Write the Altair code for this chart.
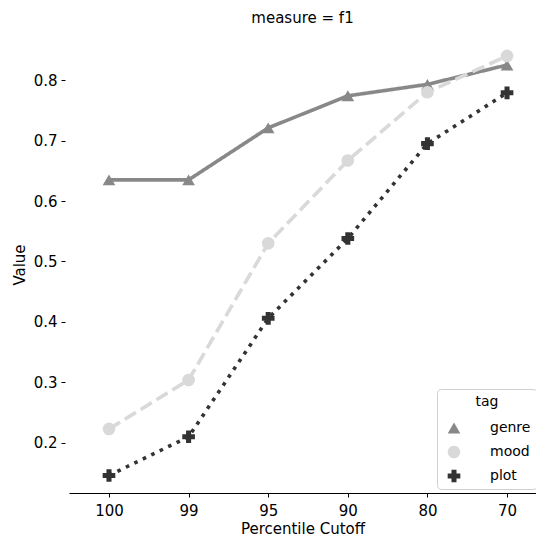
import altair as alt
import pandas as pd

cutoffs = ["100", "99", "95", "90", "80", "70"]
tags = ["genre", "mood", "plot"]
genre_vals = [0.635, 0.635, 0.721, 0.774, 0.793, 0.825]
mood_vals = [0.223, 0.304, 0.530, 0.667, 0.780, 0.840]
plot_vals = [0.146, 0.210, 0.406, 0.538, 0.695, 0.779]

rows = []
for tag, vals in zip(tags, [genre_vals, mood_vals, plot_vals]):
    for c, v in zip(cutoffs, vals):
        rows.append({"tag": tag, "cutoff": c, "value": v})
df = pd.DataFrame(rows)

FONT = "DejaVu Sans"
FS = 15
colors = ["#888888", "#d9d9d9", "#333333"]

x = alt.X("cutoff:N", sort=cutoffs, title="Percentile Cutoff",
          scale=alt.Scale(type="point", padding=0.433, align=0.58),
          axis=alt.Axis(labelAngle=0, domainColor="black", tickColor="black",
                        labelColor="black", titleColor="black", labelFontSize=FS,
                        titleFontSize=FS, labelFont=FONT, titleFont=FONT,
                        titleFontWeight="normal", tickSize=4, labelPadding=6,
                        titlePadding=3, domainWidth=1.2))
y = alt.Y("value:Q", title="Value",
          scale=alt.Scale(domain=[0.117, 0.873], nice=False, zero=False),
          axis=alt.Axis(values=[0.2, 0.3, 0.4, 0.5, 0.6, 0.7, 0.8], format=".1f",
                        domain=False, grid=False, tickColor="black", offset=4,
                        labelColor="black", titleColor="black", labelFontSize=FS,
                        titleFontSize=FS, labelFont=FONT, titleFont=FONT,
                        titleFontWeight="normal", tickSize=4, labelPadding=4,
                        titlePadding=6))

color_scale = alt.Scale(domain=tags, range=colors)

lines = alt.Chart(df).mark_line(strokeWidth=3.6).encode(
    x=x, y=y,
    color=alt.Color("tag:N", scale=color_scale, title="tag"),
    strokeDash=alt.StrokeDash("tag:N", scale=alt.Scale(domain=tags, range=[[1, 0], [13, 5.6], [3.6, 5.8]]), title="tag"),
)

points = alt.Chart(df).mark_point(filled=True, opacity=1, size=160).encode(
    x=x, y=y,
    color=alt.Color("tag:N", scale=color_scale, title="tag"),
    shape=alt.Shape("tag:N", scale=alt.Scale(domain=tags, range=["triangle-up", "circle", "cross"]), title="tag"),
)

chart = alt.layer(lines, points).properties(
    width=467, height=457,
    title=alt.TitleParams("measure = f1", font=FONT, fontSize=FS, fontWeight="normal", color="black", offset=10),
    autosize="none",
    padding={"left": 61, "top": 28, "right": 0, "bottom": 43},
).configure_view(stroke=None).configure_legend(
    orient="none", legendX=368, legendY=353,
    titleFont=FONT, labelFont=FONT, titleFontSize=14, labelFontSize=14,
    titleFontWeight="normal", titleColor="black", labelColor="black",
    titleAnchor="middle", padding=6, fillColor="white", strokeColor="#d0d0d0",
    cornerRadius=4, symbolSize=160, labelOffset=29, rowPadding=10,
    symbolOffset=4, titlePadding=12, symbolStrokeWidth=0,
)

chart.save("out.html", embed_options={"renderer": "svg", "actions": False})
